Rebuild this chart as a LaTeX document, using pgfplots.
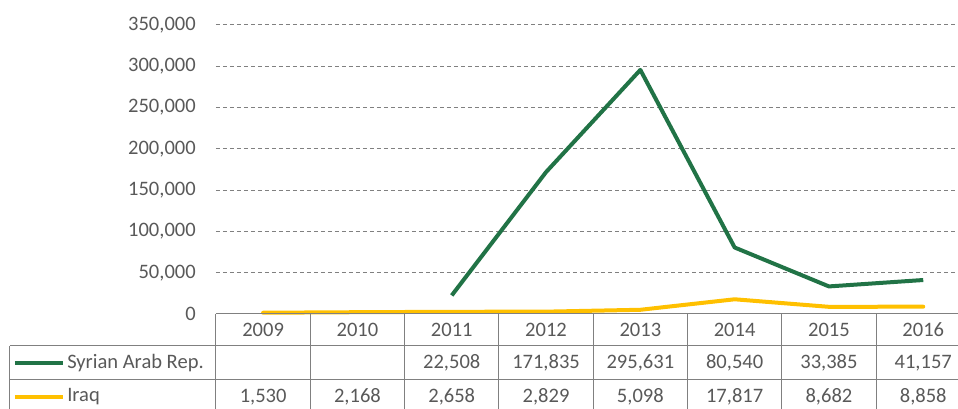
\documentclass[border=0pt]{standalone}
\usepackage{pgfplots}
\pgfplotsset{compat=1.18}
\usepackage{fontspec}
\setmainfont{Carlito}
\definecolor{txtgray}{HTML}{595959}
\definecolor{tblgray}{HTML}{808080}
\definecolor{syr}{HTML}{217346}
\definecolor{irq}{HTML}{FFC000}
\begin{document}
\fontsize{15.4}{18}\selectfont
\begin{tikzpicture}
\useasboundingbox (-162pt,-71.25pt) rectangle (556.5pt,235.5pt);
\clip (-162pt,-71.25pt) rectangle (556.5pt,235.5pt);
\begin{axis}[
  at={(0,0)}, anchor=origin,
  scale only axis,
  width=565.8pt, height=216.75pt,
  xmin=2008.5, xmax=2016.5,
  ymin=0, ymax=350000,
  xtick=\empty,
  ytick={0,50000,100000,150000,200000,250000,300000,350000},
  scaled y ticks=false,
  y tick label style={/pgf/number format/fixed, /pgf/number format/1000 sep={,}, /pgf/number format/assume math mode=true, font=\fontsize{15.4}{18}\selectfont, text=txtgray, inner sep=0pt, xshift=-15pt},
  major tick length=0pt,
  axis line style={draw=none},
  ymajorgrids,
  grid style={dash pattern=on 3pt off 2.25pt, line width=0.75pt, color=tblgray},
  clip=false,
]
\addplot[irq, line width=3pt, line join=round, line cap=round] coordinates {
  (2009,1530) (2010,2168) (2011,2658) (2012,2829) (2013,5098) (2014,17817) (2015,8682) (2016,8858)};
\addplot[syr, line width=3pt, line join=round] coordinates {
  (2011,22508) (2012,171835) (2013,295631) (2014,80540) (2015,33385) (2016,41157)};
\end{axis}
\begin{scope}[x=0.75pt, y=0.75pt, line width=0.75pt, tblgray]
  \draw (0,0) -- (754.4,0);
  \draw (-206,-32) -- (754.4,-32);
  \draw (-206,-66) -- (754.4,-66);
  \draw (-206,-100) -- (754.4,-100);
  \draw (-206,-32) -- (-206,-100);
  \foreach \i in {0,...,8} { \draw ({94.3*\i},0) -- ({94.3*\i},-100); }
\end{scope}
\begin{scope}[x=0.75pt, y=0.75pt, every node/.style={text=txtgray, inner sep=0pt, font=\fontsize{15.4}{18}\selectfont}]
  \foreach \yr [count=\i from 0] in {2009,2010,2011,2012,2013,2014,2015,2016}
    { \node at ({47.15+94.3*\i},-16) {\yr}; }
  \foreach \v [count=\i from 2] in {22{,}508,171{,}835,295{,}631,80{,}540,33{,}385,41{,}157}
    { \node at ({47.15+94.3*\i},-49) {\v}; }
  \foreach \v [count=\i from 0] in {1{,}530,2{,}168,2{,}658,2{,}829,5{,}098,17{,}817,8{,}682,8{,}858}
    { \node at ({47.15+94.3*\i},-83) {\v}; }
  \draw[syr, line width=3pt] (-201,-49) -- (-153,-49);
  \draw[irq, line width=3pt] (-201,-83) -- (-153,-83);
  \node[anchor=west] at (-149,-49) {Syrian Arab Rep.};
  \node[anchor=west] at (-149,-83) {Iraq};
\end{scope}
\end{tikzpicture}
\end{document}
